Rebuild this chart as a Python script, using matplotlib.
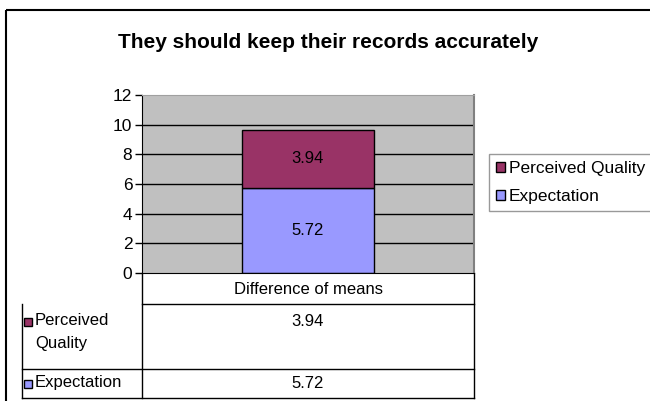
import matplotlib.pyplot as plt
from matplotlib.patches import Rectangle

plt.rcParams['font.family'] = ['Liberation Sans', 'DejaVu Sans']

title = "They should keep their records accurately"
category = "Difference of means"
series_names = ["Expectation", "Perceived Quality"]
table_names = ["Expectation", "Perceived\nQuality"]
series_values = [5.72, 3.94]
series_colors = ["#9999FF", "#993366"]
yticks = [0, 2, 4, 6, 8, 10, 12]

W, H = 650, 401
FS = 12
fig = plt.figure(figsize=(W / 100, H / 100), dpi=100)


def frac(x0, y0, x1, y1):
    # pixel box (top-left origin) -> figure fraction rect
    return [x0 / W, 1 - y1 / H, (x1 - x0) / W, (y1 - y0) / H]


# overlay in pixel coordinates for frame + data table
ov = fig.add_axes([0, 0, 1, 1])
ov.set_xlim(0, W)
ov.set_ylim(H, 0)
ov.axis("off")
ov.add_patch(Rectangle((6, 10), 700, 420, fill=False, ec="black", lw=1.5))
ov.text(328, 42, title, ha="center", va="center", fontsize=15, fontweight="bold")

# plot area
px0, px1, py0, py1 = 142, 474, 95, 273
ax = fig.add_axes(frac(px0, py0, px1, py1))
ax.set_facecolor("#C0C0C0")
ax.set_xlim(-0.5, 0.5)
ax.set_ylim(0, 12)
ax.set_yticks(yticks)
ax.set_xticks([])
for y in yticks[1:-1]:
    ax.axhline(y, color="black", lw=1, zorder=1)
bottom = 0
for name, v, c in zip(series_names, series_values, series_colors):
    ax.bar(0, v, width=0.4, bottom=bottom, color=c, edgecolor="black",
           lw=1, zorder=2, label=name)
    ax.text(0, bottom + v / 2, f"{v:.2f}", ha="center", va="center",
            fontsize=FS, zorder=3)
    bottom += v
ax.spines["top"].set_color("#A0A0A0")
ax.spines["right"].set_color("#808080")
ax.spines["right"].set_linewidth(1.5)
ax.spines["bottom"].set_color("black")
ax.tick_params(axis="y", length=5, width=1, labelsize=12.5, pad=2)

# legend on the right
handles, labels = ax.get_legend_handles_labels()
leg = fig.legend(handles[::-1], labels[::-1], loc="upper left",
                 bbox_to_anchor=(489 / W, 1 - 154 / H), fontsize=12.5,
                 frameon=True, fancybox=False, edgecolor="#808080",
                 handlelength=0.5, handleheight=0.5, handletextpad=0.25,
                 labelspacing=0.75, borderpad=0.4, borderaxespad=0)
leg.get_frame().set_linewidth(1)

# data table under the axis
lx = 22
ov.plot([px0, px0], [273, 398], color="black", lw=1)
ov.plot([px1, px1], [273, 398], color="black", lw=1)
ov.plot([px0, px1], [304, 304], color="black", lw=1)
ov.plot([lx, lx], [304, 398], color="black", lw=1)
ov.plot([lx, px1], [369, 369], color="black", lw=1)
ov.plot([lx, px1], [398, 398], color="black", lw=1)
ov.text((px0 + px1) / 2, 289, category, ha="center", va="center", fontsize=FS)

rows = [(322, 1), (384, 0)]
for yc, i in rows:
    ov.add_patch(Rectangle((24, yc - 4), 8, 8, fc=series_colors[i],
                           ec="black", lw=1))
    ov.text(35, yc - 9, table_names[i], ha="left", va="top", fontsize=FS,
            linespacing=1.65)
    ov.text((px0 + px1) / 2, yc, f"{series_values[i]:.2f}", ha="center",
            va="center", fontsize=FS)

fig.savefig("out.png", dpi=100)
